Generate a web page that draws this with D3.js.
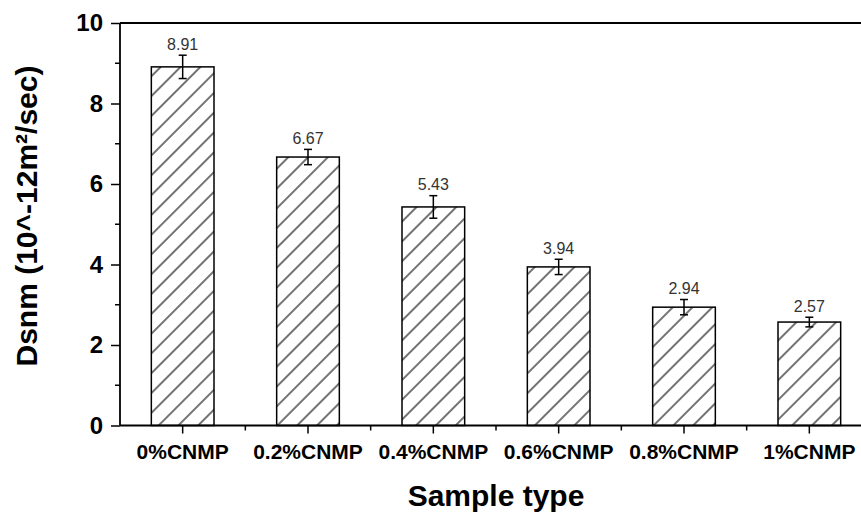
<!DOCTYPE html>
<html>
<head>
<meta charset="utf-8">
<script src="https://cdn.jsdelivr.net/npm/d3@7"></script>
<style>
  body { margin: 0; background: #fff; }
  svg { display: block; font-family: "Liberation Sans", Arial, sans-serif; }
</style>
</head>
<body>
<div id="chart"></div>
<script>
'use strict';

// values
const categories = ['0%CNMP', '0.2%CNMP', '0.4%CNMP', '0.6%CNMP', '0.8%CNMP', '1%CNMP'];
const values = [8.91, 6.67, 5.43, 3.94, 2.94, 2.57];
const errors = [0.29, 0.19, 0.28, 0.19, 0.19, 0.12];
const yTicks = [0, 2, 4, 6, 8, 10];
const yMinorTicks = [1, 3, 5, 7, 9];

function drawChart(elementID, width, height) {
  const svg = d3.select('#' + elementID)
    .append('svg')
    .attr('width', width)
    .attr('height', height);

  const left = 120, top = 23, bottom = 425.5;

  // the frame runs past the right edge of the picture
  const x = d3.scaleBand()
    .domain(categories)
    .range([left, 872])
    .paddingInner(0.5)
    .paddingOuter(0.25);

  const y = d3.scaleLinear()
    .domain([0, 10])
    .range([bottom, top]);

  // hatch pattern
  const defs = svg.append('defs');
  defs.append('pattern')
    .attr('id', 'hatch')
    .attr('patternUnits', 'userSpaceOnUse')
    .attr('width', 14)
    .attr('height', 14)
    .attr('patternTransform', 'rotate(45)')
    .append('line')
    .attr('x1', 7).attr('y1', 0)
    .attr('x2', 7).attr('y2', 14)
    .attr('stroke', '#000')
    .attr('stroke-width', 1.1);

  // bars
  svg.selectAll('.bar')
    .data(categories)
    .enter()
    .append('rect')
    .attr('class', 'bar')
    .attr('x', d => x(d))
    .attr('y', (d, i) => y(values[i]))
    .attr('width', x.bandwidth())
    .attr('height', (d, i) => y(0) - y(values[i]))
    .attr('fill', 'url(#hatch)')
    .attr('stroke', '#000')
    .attr('stroke-width', 1.5);

  // error bars
  const err = svg.selectAll('.err')
    .data(categories)
    .enter()
    .append('g')
    .attr('class', 'err')
    .attr('stroke', '#000')
    .attr('stroke-width', 1.5);

  const cx = d => x(d) + x.bandwidth() / 2;
  err.append('line')
    .attr('x1', cx).attr('x2', cx)
    .attr('y1', (d, i) => y(values[i] + errors[i]))
    .attr('y2', (d, i) => y(values[i] - errors[i]));
  err.append('line')
    .attr('x1', d => cx(d) - 4).attr('x2', d => cx(d) + 4)
    .attr('y1', (d, i) => y(values[i] + errors[i]))
    .attr('y2', (d, i) => y(values[i] + errors[i]));
  err.append('line')
    .attr('x1', d => cx(d) - 4).attr('x2', d => cx(d) + 4)
    .attr('y1', (d, i) => y(values[i] - errors[i]))
    .attr('y2', (d, i) => y(values[i] - errors[i]));

  // value labels
  svg.selectAll('.val')
    .data(categories)
    .enter()
    .append('text')
    .attr('class', 'val')
    .attr('x', cx)
    .attr('y', (d, i) => y(values[i] + errors[i]) - 5.5)
    .attr('text-anchor', 'middle')
    .attr('font-size', 16)
    .attr('fill', '#333')
    .text((d, i) => values[i].toFixed(2));

  // y axis
  const yAxis = svg.append('g')
    .attr('transform', `translate(${left},0)`)
    .call(d3.axisLeft(y).tickValues(yTicks).tickFormat(d3.format('d')).tickSize(9).tickPadding(8));
  yAxis.select('.domain').remove();
  yAxis.selectAll('.tick line').attr('stroke-width', 1.5);
  yAxis.selectAll('.tick text')
    .attr('font-size', 24)
    .attr('font-weight', 'bold')
    .attr('fill', '#000')
    .attr('font-family', '"Liberation Sans", Arial, sans-serif');

  svg.append('g')
    .selectAll('line')
    .data(yMinorTicks)
    .enter()
    .append('line')
    .attr('x1', left - 5).attr('x2', left)
    .attr('y1', d => y(d)).attr('y2', d => y(d))
    .attr('stroke', '#000')
    .attr('stroke-width', 1.5);

  // x axis
  const xAxis = svg.append('g')
    .attr('transform', `translate(0,${bottom})`)
    .call(d3.axisBottom(x).tickSize(8).tickPadding(11));
  xAxis.select('.domain').remove();
  xAxis.selectAll('.tick line').attr('stroke-width', 1.5);
  xAxis.selectAll('.tick text')
    .attr('font-size', 21)
    .attr('font-weight', 'bold')
    .attr('fill', '#000')
    .attr('font-family', '"Liberation Sans", Arial, sans-serif');

  // minor x ticks at band boundaries
  svg.append('g')
    .selectAll('line')
    .data(categories.slice(1))
    .enter()
    .append('line')
    .attr('x1', d => x(d) - x.step() * 0.25)
    .attr('x2', d => x(d) - x.step() * 0.25)
    .attr('y1', bottom).attr('y2', bottom + 5)
    .attr('stroke', '#000')
    .attr('stroke-width', 1.5);

  // frame lines
  svg.append('line')
    .attr('x1', left).attr('x2', width)
    .attr('y1', bottom).attr('y2', bottom)
    .attr('stroke', '#000').attr('stroke-width', 1.8);
  svg.append('line')
    .attr('x1', left).attr('x2', width)
    .attr('y1', top).attr('y2', top)
    .attr('stroke', '#000').attr('stroke-width', 1.8);
  svg.append('line')
    .attr('x1', left).attr('x2', left)
    .attr('y1', top).attr('y2', bottom)
    .attr('stroke', '#000').attr('stroke-width', 1.8);

  // titles
  svg.append('text')
    .attr('x', 496)
    .attr('y', 506)
    .attr('text-anchor', 'middle')
    .attr('font-size', 30)
    .attr('font-weight', 'bold')
    .text('Sample type');

  svg.append('text')
    .attr('transform', 'translate(37,216) rotate(-90)')
    .attr('text-anchor', 'middle')
    .attr('font-size', 30)
    .attr('font-weight', 'bold')
    .text('Dsnm (10^-12m²/sec)');
}

drawChart('chart', 861, 518);
</script>
</body>
</html>
